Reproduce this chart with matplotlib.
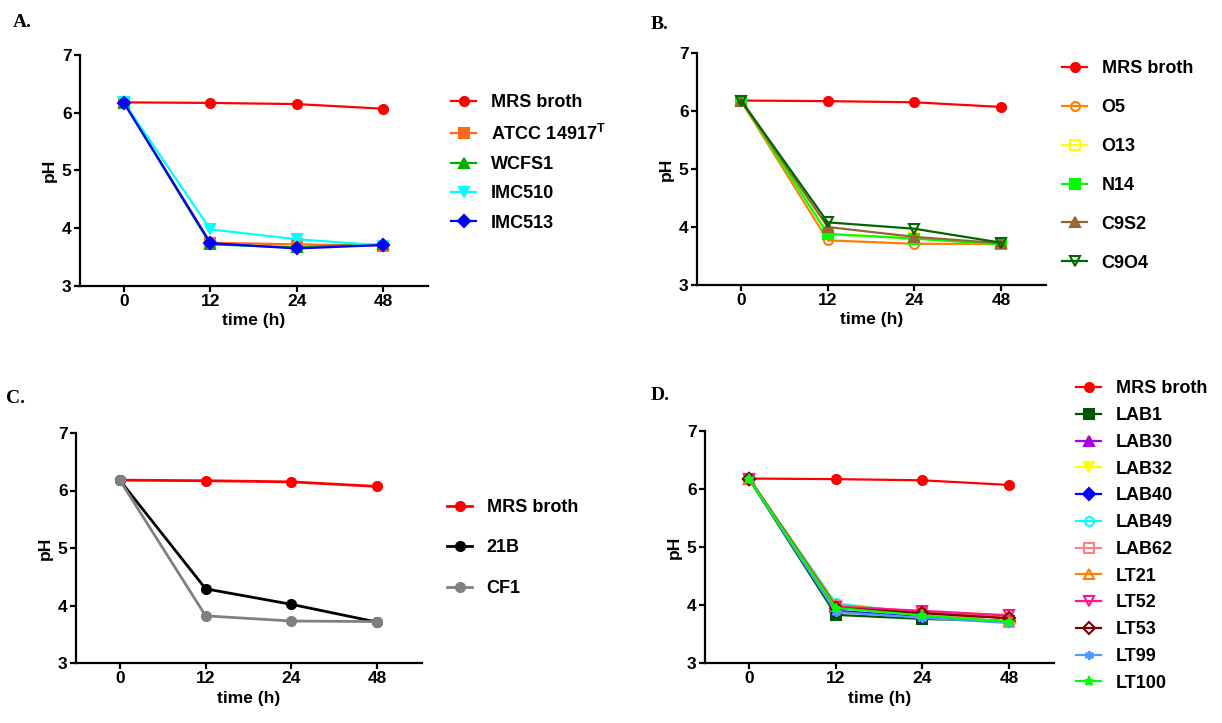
import matplotlib
matplotlib.use("Agg")
import matplotlib.pyplot as plt
import numpy as np

plt.rcParams['font.family'] = ['Liberation Sans', 'DejaVu Sans']
plt.rcParams['font.weight'] = 'bold'
plt.rcParams['mathtext.fontset'] = 'custom'
plt.rcParams['mathtext.bf'] = 'Liberation Sans:bold'
plt.rcParams['mathtext.rm'] = 'Liberation Sans:bold'

# time points (categorical on x)
times = ['0', '12', '24', '48']

# MRS broth control, same in all panels
mrs = [6.18, 6.17, 6.15, 6.07]

# panel A
a_names = ['MRS broth', r'ATCC 14917$^{\mathbf{T}}$', 'WCFS1', 'IMC510', 'IMC513']
a_vals = [mrs,
          [6.18, 3.75, 3.72, 3.70],
          [6.17, 3.72, 3.67, 3.72],
          [6.18, 3.98, 3.81, 3.70],
          [6.17, 3.74, 3.65, 3.71]]

# panel B
b_names = ['MRS broth', 'O5', 'O13', 'N14', 'C9S2', 'C9O4']
b_vals = [mrs,
          [6.17, 3.77, 3.71, 3.71],
          [6.18, 3.88, 3.81, 3.70],
          [6.18, 3.88, 3.80, 3.70],
          [6.17, 4.00, 3.83, 3.72],
          [6.18, 4.08, 3.97, 3.73]]

# panel C
c_names = ['MRS broth', '21B', 'CF1']
c_vals = [mrs,
          [6.18, 4.29, 4.02, 3.71],
          [6.18, 3.82, 3.73, 3.72]]

# panel D
d_names = ['MRS broth', 'LAB1', 'LAB30', 'LAB32', 'LAB40', 'LAB49', 'LAB62',
           'LT21', 'LT52', 'LT53', 'LT99', 'LT100']
d_vals = [mrs,
          [6.17, 3.83, 3.76, 3.72],
          [6.18, 3.95, 3.85, 3.78],
          [6.18, 4.00, 3.88, 3.83],
          [6.17, 3.90, 3.79, 3.72],
          [6.18, 4.03, 3.85, 3.70],
          [6.18, 3.98, 3.87, 3.70],
          [6.18, 4.00, 3.88, 3.80],
          [6.18, 3.97, 3.90, 3.82],
          [6.17, 3.95, 3.86, 3.77],
          [6.17, 3.88, 3.78, 3.69],
          [6.17, 3.95, 3.82, 3.71]]

# styles: (color, marker, filled)
a_sty = [('#ff0000', 'o', True), ('#ff6a1a', 's', True), ('#00b000', '^', True),
         ('#00ffff', 'v', True), ('#0000ff', 'D', True)]
b_sty = [('#ff0000', 'o', True), ('#ff8000', 'o', False), ('#ffff00', 's', False),
         ('#00ff00', 's', True), ('#996633', '^', True), ('#006600', 'v', False)]
c_sty = [('#ff0000', 'o', True), ('#000000', 'o', True), ('#808080', 'o', True)]
d_sty = [('#ff0000', 'o', True), ('#005500', 's', True), ('#aa00dd', '^', True),
         ('#ffff00', 'v', True), ('#0000ff', 'D', True), ('#00ffff', 'o', False),
         ('#ff8080', 's', False), ('#ff8000', '^', False), ('#ff1493', 'v', False),
         ('#800000', 'D', False), ('#5599ff', (6, 2, 0), True), ('#00ff00', '*', True)]

W, H = 1222, 723
fig = plt.figure(figsize=(W / 100, H / 100), dpi=100)

def fx(px):
    return px / W

def fy(py):
    return 1 - py / H

# axes boxes in pixels: left, top, right, bottom
boxes = {'A': (80, 55, 428, 286), 'B': (697, 53, 1046, 285),
         'C': (76, 433, 422, 663), 'D': (705, 431, 1054, 663)}
# legend anchor (handle left x, center y), labelspacing
legs = {'A': (451, 163, 0.68), 'B': (1062, 166, 1.21),
        'C': (447, 548, 1.3), 'D': (1076, 536, 0.54)}
letters = {'A': (13, 27), 'B': (651, 29), 'C': (6, 403), 'D': (651, 400)}

panels = {'A': (a_names, a_vals, a_sty, 1.6, 6.5),
          'B': (b_names, b_vals, b_sty, 1.6, 6.5),
          'C': (c_names, c_vals, c_sty, 2.0, 6.5),
          'D': (d_names, d_vals, d_sty, 1.6, 6.5)}

x = np.arange(len(times))
for key in ['A', 'B', 'C', 'D']:
    l, t, r, b = boxes[key]
    ax = fig.add_axes([fx(l), fy(b), fx(r - l), (b - t) / H])
    names, vals, sty, lw, ms = panels[key]
    for name, v, (col, mk, filled) in zip(names, vals, sty):
        mew = 2.0 if mk == (6, 2, 0) else 1.5
        ax.plot(x, v, color=col, lw=lw, marker=mk, ms=ms,
                mfc=col if filled else 'none', mec=col, mew=mew, label=name)
    ax.set_xlim(-0.51, 3.52)
    ax.set_ylim(3, 7)
    ax.set_xticks(x)
    ax.set_xticklabels(times)
    ax.set_yticks([3, 4, 5, 6, 7])
    for s in ['top', 'right']:
        ax.spines[s].set_visible(False)
    for s in ['left', 'bottom']:
        ax.spines[s].set_linewidth(1.6)
    ax.tick_params(direction='out', length=4, width=1.6, labelsize=12.5, pad=2)
    ax.set_xlabel('time (h)', fontsize=12.5, fontweight='bold', labelpad=3)
    ax.set_ylabel('pH', fontsize=12.5, fontweight='bold', labelpad=4)
    lx, ly, sp = legs[key]
    ax.legend(loc='center left', bbox_to_anchor=(fx(lx), fy(ly)),
              bbox_transform=fig.transFigure, frameon=False, borderpad=0,
              borderaxespad=0, handlelength=1.4, handletextpad=0.8,
              labelspacing=sp, prop={'size': 13, 'weight': 'bold'})
    px, py = letters[key]
    fig.text(fx(px), fy(py), key + '.', family=['Liberation Serif', 'DejaVu Serif'],
             fontsize=14, fontweight='bold', ha='left', va='baseline')

fig.savefig('out.png', dpi=100)
